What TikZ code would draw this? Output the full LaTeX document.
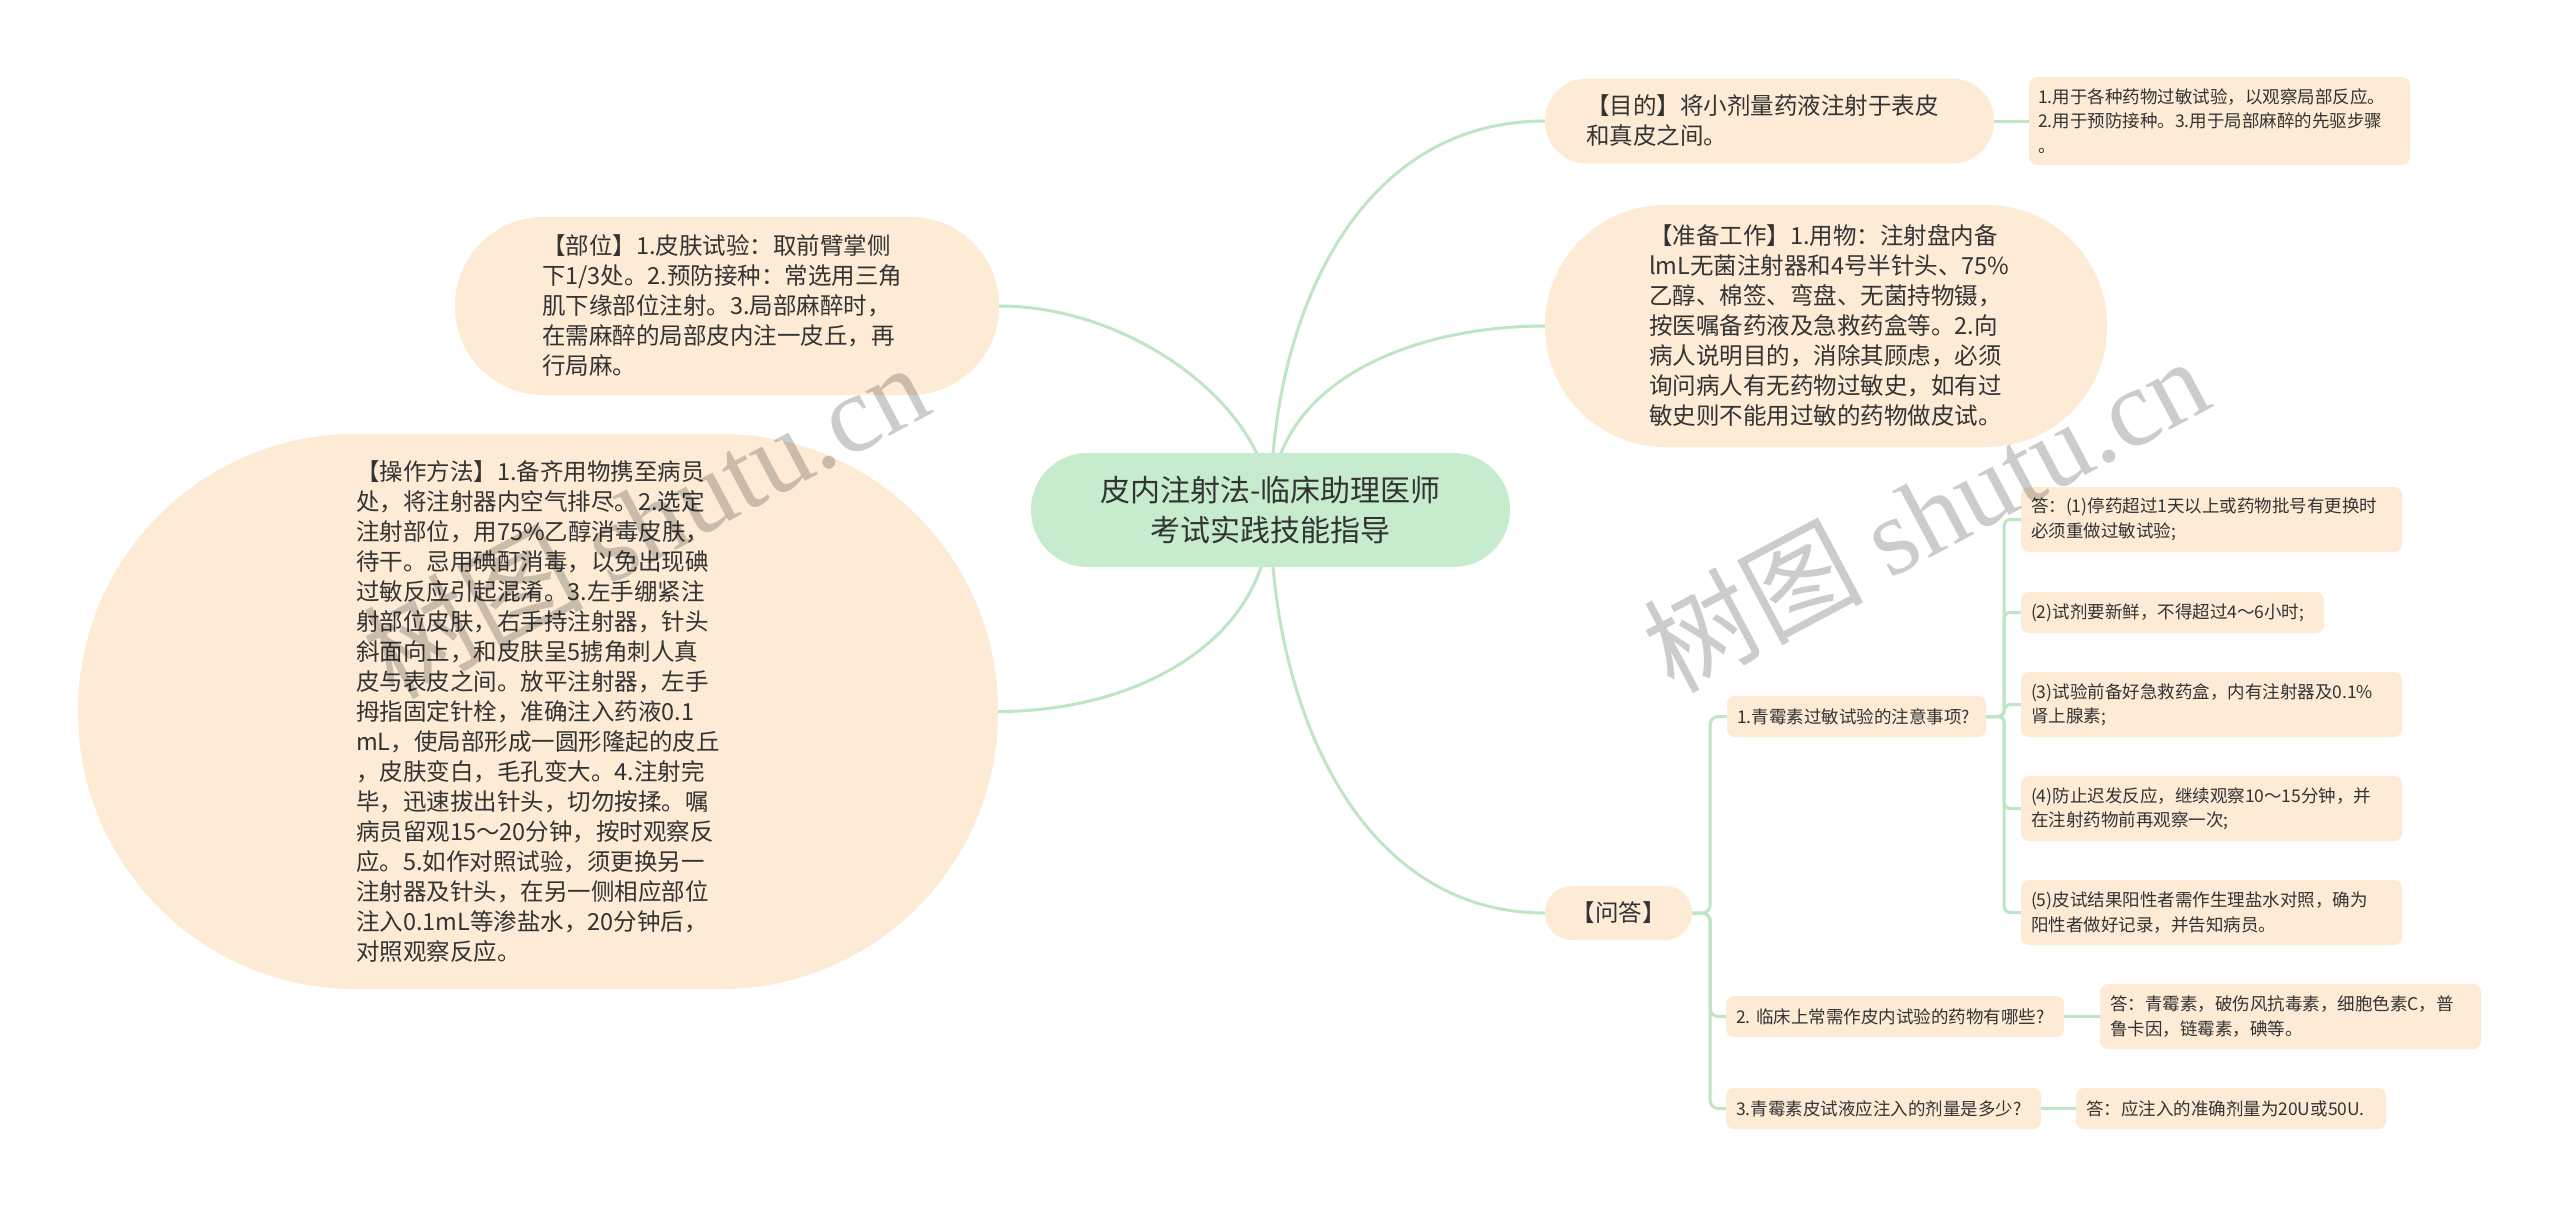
\documentclass[tikz,border=0pt]{standalone}
\usepackage{fontspec}
\setmainfont{Noto Sans CJK SC}
\newfontfamily\wmserif{Liberation Serif}
\usetikzlibrary{backgrounds,calc}
\definecolor{peach}{HTML}{FDEBD5}
\definecolor{mint}{HTML}{C6EBCD}
\definecolor{linkc}{HTML}{BEE6C4}
\definecolor{txt}{HTML}{333333}
\begin{document}
\begin{tikzpicture}[x=1pt,y=-1pt,
  centernode/.style={fill=mint, text=txt, align=center, inner sep=0pt,
    font=\fontsize{30}{40}\selectfont},
  bignode/.style={fill=peach, text=txt, align=left, inner sep=0pt,
    font=\fontsize{23.5}{30}\selectfont},
  smallnode/.style={fill=peach, text=txt, align=left, inner sep=0pt,
    rounded corners=8pt, font=\fontsize{17.5}{24.5}\selectfont},
  link/.style={draw=linkc, line width=3pt},
  wm/.style={text=black, text opacity=0.2, inner sep=0pt,
    font=\fontsize{110}{110}\selectfont}]
\useasboundingbox (0,0) rectangle (2560,1208);

% center
\node[centernode, minimum width=479pt, minimum height=114pt, rounded corners=56.5pt]
  (ctr) at (1270.5,510) {皮内注射法-临床助理医师\\考试实践技能指导};

% right main branches
\node[bignode, minimum width=449pt, minimum height=85pt, rounded corners=42pt, text width=367pt]
  (mudi) at (1769.5,121) {【目的】将小剂量药液注射于表皮\\和真皮之间。};
\node[smallnode, minimum width=381pt, minimum height=88pt, text width=363pt]
  (mudic) at (2219.5,121) {1.用于各种药物过敏试验，以观察局部反应。\\2.用于预防接种。3.用于局部麻醉的先驱步骤\\。};

\node[bignode, minimum width=562pt, minimum height=242pt, rounded corners=120.5pt, text width=354pt]
  (zbgz) at (1826,326) {【准备工作】1.用物：注射盘内备\\lmL无菌注射器和4号半针头、75\%\\乙醇、棉签、弯盘、无菌持物镊，\\按医嘱备药液及急救药盒等。2.向\\病人说明目的，消除其顾虑，必须\\询问病人有无药物过敏史，如有过\\敏史则不能用过敏的药物做皮试。};

% left main branches
\node[bignode, minimum width=544pt, minimum height=178pt, rounded corners=88.5pt, text width=370pt]
  (buwei) at (727,306) {【部位】1.皮肤试验：取前臂掌侧\\下1/3处。2.预防接种：常选用三角\\肌下缘部位注射。3.局部麻醉时，\\在需麻醉的局部皮内注一皮丘，再\\行局麻。};

\node[bignode, minimum width=920pt, minimum height=555pt, rounded corners=277pt, text width=364pt]
  (czff) at (538,711.5) {【操作方法】1.备齐用物携至病员\\处，将注射器内空气排尽。2.选定\\注射部位，用75\%乙醇消毒皮肤，\\待干。忌用碘酊消毒，以免出现碘\\过敏反应引起混淆。3.左手绷紧注\\射部位皮肤，右手持注射器，针头\\斜面向上，和皮肤呈5掳角刺人真\\皮与表皮之间。放平注射器，左手\\拇指固定针栓，准确注入药液0.1\\mL，使局部形成一圆形隆起的皮丘\\，皮肤变白，毛孔变大。4.注射完\\毕，迅速拔出针头，切勿按揉。嘱\\病员留观15～20分钟，按时观察反\\应。5.如作对照试验，须更换另一\\注射器及针头，在另一侧相应部位\\注入0.1mL等渗盐水，20分钟后，\\对照观察反应。};

% Q&A
\node[bignode, align=center, minimum width=147pt, minimum height=54pt, rounded corners=26.5pt]
  (wenda) at (1618.5,913) {【问答】};

\node[smallnode, minimum width=259pt, minimum height=41pt, text width=239pt]
  (q1) at (1856.5,716.5) {1.青霉素过敏试验的注意事项?};
\node[smallnode, minimum width=381pt, minimum height=65pt, text width=361pt]
  (c1) at (2211.5,519.5) {答：(1)停药超过1天以上或药物批号有更换时\\必须重做过敏试验;};
\node[smallnode, minimum width=303pt, minimum height=41pt, text width=283pt]
  (c2) at (2172.5,612.5) {(2)试剂要新鲜，不得超过4～6小时;};
\node[smallnode, minimum width=381pt, minimum height=65pt, text width=361pt]
  (c3) at (2211.5,704.5) {(3)试验前备好急救药盒，内有注射器及0.1\%\\肾上腺素;};
\node[smallnode, minimum width=381pt, minimum height=65pt, text width=361pt]
  (c4) at (2211.5,808.5) {(4)防止迟发反应，继续观察10～15分钟，并\\在注射药物前再观察一次;};
\node[smallnode, minimum width=381pt, minimum height=65pt, text width=361pt]
  (c5) at (2211.5,912.5) {(5)皮试结果阳性者需作生理盐水对照，确为\\阳性者做好记录，并告知病员。};

\node[smallnode, minimum width=338pt, minimum height=41pt, text width=318pt]
  (q2) at (1895,1016.5) {2.~临床上常需作皮内试验的药物有哪些?};
\node[smallnode, minimum width=381pt, minimum height=65pt, text width=361pt]
  (a2) at (2290.5,1016.5) {答：青霉素，破伤风抗毒素，细胞色素C，普\\鲁卡因，链霉素，碘等。};

\node[smallnode, minimum width=315pt, minimum height=41pt, text width=295pt]
  (q3) at (1883.5,1108.5) {3.青霉素皮试液应注入的剂量是多少?};
\node[smallnode, minimum width=310pt, minimum height=41pt, text width=290pt]
  (a3) at (2231,1108.5) {答：应注入的准确剂量为20U或50U.};

% connectors
\begin{scope}[on background layer]
\fill[white] (0,0) rectangle (2560,1208);
\draw[link] (ctr.center) .. controls ($(ctr.center)+(0,-190)$) and ($(mudi.west)+(-190,0)$) .. (mudi.west);
\draw[link] (ctr.center) .. controls ($(ctr.center)+(0,-130)$) and ($(zbgz.west)+(-130,0)$) .. (zbgz.west);
\draw[link] (ctr.center) .. controls ($(ctr.center)+(0,-100)$) and ($(buwei.east)+(135,0)$) .. (buwei.east);
\draw[link] (ctr.center) .. controls ($(ctr.center)+(0,130)$) and ($(czff.east)+(140,0)$) .. (czff.east);
\draw[link] (ctr.center) .. controls ($(ctr.center)+(0,190)$) and ($(wenda.west)+(-190,0)$) .. (wenda.west);
\draw[link] (mudi.east) -- (mudic.west);
\draw[link, rounded corners=8pt] (wenda.east) -- ++(18,0) |- (q1.west);
\draw[link, rounded corners=8pt] (wenda.east) -- ++(18,0) |- (q2.west);
\draw[link, rounded corners=8pt] (wenda.east) -- ++(18,0) |- (q3.west);
\draw[link, rounded corners=6pt] (q1.east) -- ++(18,0) |- (c1.west);
\draw[link, rounded corners=6pt] (q1.east) -- ++(18,0) |- (c2.west);
\draw[link, rounded corners=6pt] (q1.east) -- ++(18,0) |- (c3.west);
\draw[link, rounded corners=6pt] (q1.east) -- ++(18,0) |- (c4.west);
\draw[link, rounded corners=6pt] (q1.east) -- ++(18,0) |- (c5.west);
\draw[link] (q2.east) -- (a2.west);
\draw[link] (q3.east) -- (a3.west);
\end{scope}

% watermarks
\node[wm, rotate=28] (wm1) at (645,519) {树图 {\wmserif shutu.cn}};
\node[wm, rotate=28] (wm2) at (1925,513) {树图 {\wmserif shutu.cn}};
\end{tikzpicture}
\end{document}
